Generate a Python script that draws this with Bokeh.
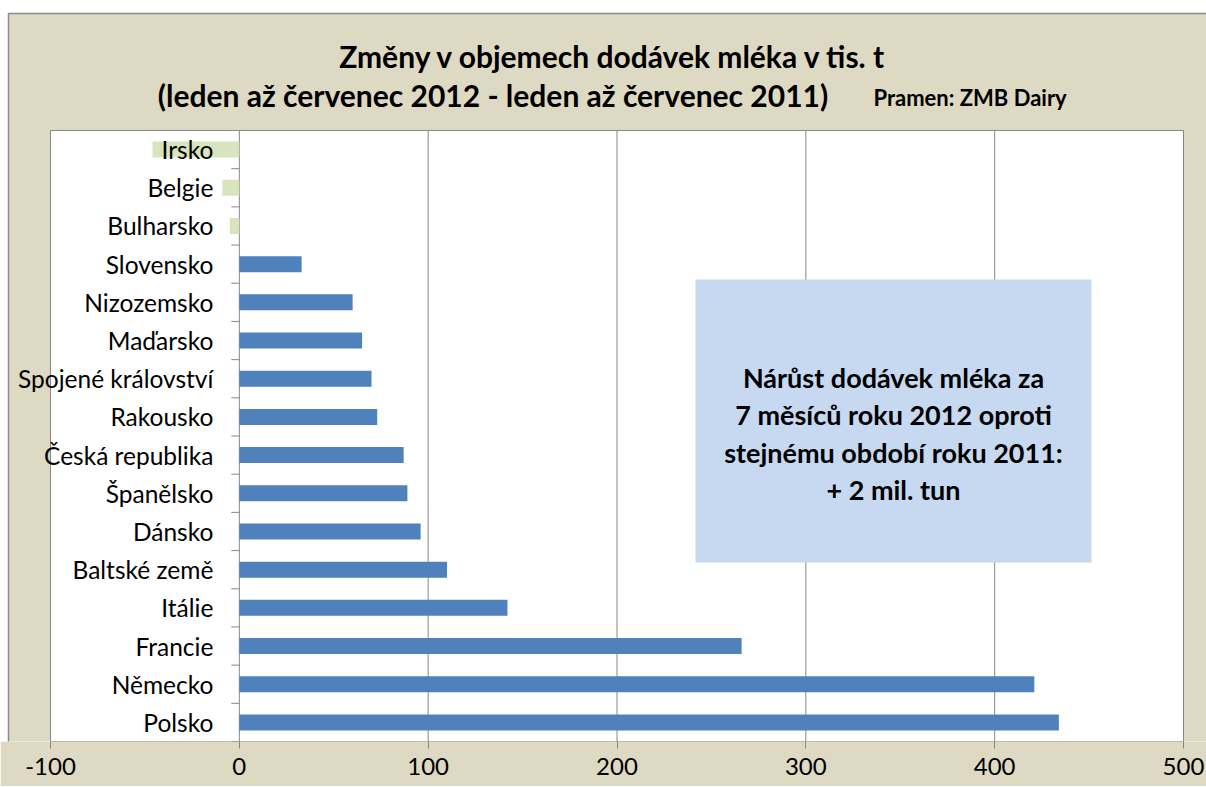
from bokeh.plotting import figure
from bokeh.models import Range1d, FixedTicker, Label, LabelSet, BoxAnnotation, ColumnDataSource
from bokeh.core.properties import value
from bokeh.embed import file_html
from bokeh.resources import INLINE
import math

# ---- data ----
countries = ["Irsko", "Belgie", "Bulharsko", "Slovensko", "Nizozemsko", "Maďarsko",
             "Spojené království", "Rakousko", "Česká republika", "Španělsko", "Dánsko",
             "Baltské země", "Itálie", "Francie", "Německo", "Polsko"]
changes = [-46, -9, -5, 33, 60, 65, 70, 73, 87, 89, 96, 110, 142, 266, 421, 434]
x_ticks = [-100, 0, 100, 200, 300, 400, 500]

title_line1 = "Změny v objemech dodávek mléka v tis. t"
title_line2 = "(leden až červenec 2012 - leden až červenec  2011)"
source_note = "Pramen: ZMB Dairy"
box_text = "Nárůst dodávek mléka za\n7 měsíců roku 2012 oproti\nstejnému období roku 2011:\n+ 2 mil. tun"

FONT = "Lato"
BG = "#DDD9C3"
GRID = "#878787"

# ---- layout (pixels) ----
W, H = 1206, 786
BOTTOM = 45                      # border below frame for the x axis
FRAME_H = H - BOTTOM             # frame covers the whole canvas above the axis
PLOT_L, PLOT_R, PLOT_T = 50, 1183, 130   # white plot area inside the frame

n = len(countries)
xmin, xmax = x_ticks[0], x_ticks[-1]
sx = (PLOT_R - PLOT_L) / (xmax - xmin)
x0 = xmin - PLOT_L / sx
x1 = x0 + W / sx
band = (FRAME_H - PLOT_T) / n
y0 = -0.5
y1 = y0 + FRAME_H / band

def dx(px):
    return x0 + px / sx

def dy(py):
    return y0 + (FRAME_H - py) / band

ypos = [n - 1 - i for i in range(n)]
colors = ["#4F81BD" if v >= 0 else "#D7E4BD" for v in changes]
src = ColumnDataSource(dict(y=ypos, v=changes, c=colors, name=countries))

p = figure(width=W, height=H, output_backend="svg", toolbar_location=None,
           x_range=Range1d(x0, x1), y_range=Range1d(y0, y1),
           y_axis_location=None,
           min_border_left=0, min_border_right=0, min_border_top=0, min_border_bottom=BOTTOM)
p.background_fill_color = "white"
p.border_fill_color = BG
p.outline_line_color = None
p.xgrid.visible = False
p.ygrid.visible = False

# outer chart area (beige with grey border at top/left)
p.quad(left=dx(8), right=x1 + 10, bottom=y0 - 1, top=dy(13), fill_color=BG,
       line_color="#8C8C8C", line_width=1.5, level="image")
# white plot area
p.quad(left=xmin, right=xmax, bottom=-0.5, top=n - 0.5, fill_color="white",
       line_color=GRID, line_width=1, level="image")
# vertical grid lines inside the plot area
inner = x_ticks[1:-1]
p.segment(x0=inner, y0=[-0.5] * len(inner), x1=inner, y1=[n - 0.5] * len(inner),
          line_color=GRID, line_width=1, level="underlay")

ax = p.xaxis[0]
ax.ticker = FixedTicker(ticks=x_ticks)
ax.major_label_overrides = {t: str(t) for t in x_ticks}
ax.axis_line_color = None
ax.major_tick_line_color = GRID
ax.major_tick_in = 0
ax.major_tick_out = 7
ax.minor_tick_line_color = None
ax.major_label_text_font = FONT
ax.major_label_text_font_size = "24px"
ax.major_label_text_color = "black"
ax.major_label_standoff = 9

p.hbar(y="y", left=0, right="v", height=0.42, fill_color="c", line_color=None, source=src)

# category tick marks at band boundaries on the zero line
bounds = [i - 0.5 for i in range(n + 1)]
p.ray(x=[0] * len(bounds), y=bounds, length=8, length_units="screen", angle=math.pi,
      line_color=GRID, line_width=1)

p.add_layout(LabelSet(x=0, y="y", text="name", source=src, x_offset=-26, text_align="right",
                      text_baseline="middle", text_font=value(FONT), text_font_size="24.5px",
                      text_color="black"))

box = BoxAnnotation(left=dx(695), right=dx(1091), bottom=dy(562), top=dy(279),
                    fill_color="#C6D9F1", fill_alpha=1.0, line_color=None)
p.add_layout(box)
p.add_layout(Label(x=dx(893), y=dy(433), text=box_text, text_align="center",
                   text_baseline="middle", text_font=FONT, text_font_style="bold",
                   text_font_size="27px", text_line_height=1.13, text_color="black"))

# titles
p.add_layout(Label(x=dx(613), y=dy(55), text=title_line1,
                   text_align="center", text_baseline="middle", text_font=FONT,
                   text_font_style="bold", text_font_size="30px", text_color="black"))
p.add_layout(Label(x=dx(835), y=dy(94), text=title_line2,
                   text_align="right", text_baseline="middle", text_font=FONT,
                   text_font_style="bold", text_font_size="30px", text_color="black"))
p.add_layout(Label(x=dx(873), y=dy(97), text=source_note,
                   text_align="left", text_baseline="middle", text_font=FONT,
                   text_font_style="bold", text_font_size="22px", text_color="black"))

open("out.html", "w").write(file_html(p, INLINE))
